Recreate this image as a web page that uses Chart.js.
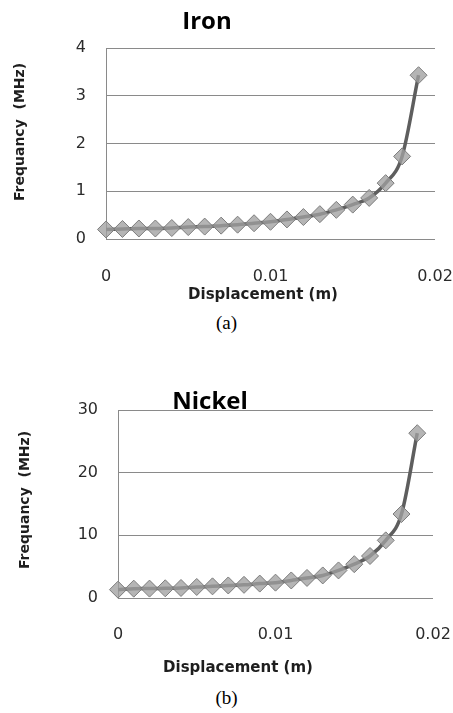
<!DOCTYPE html>
<html>
<head>
<meta charset="utf-8">
<title>Iron / Nickel frequency vs displacement</title>
<script src="https://cdn.jsdelivr.net/npm/chart.js@4.4.1/dist/chart.umd.min.js"></script>
<style>
    body {
        margin: 0;
        background: #fff;
        width: 453px;
        height: 713px;
        position: relative;
        overflow: hidden;
    }
    .panel {
        position: absolute;
        left: 0;
        width: 453px;
    }
    .caption {
        position: absolute;
        left: 0;
        width: 453px;
        text-align: center;
        font-family: "Liberation Serif", "Times New Roman", serif;
        font-size: 19px;
        line-height: 22px;
        color: #000;
    }
</style>
</head>
<body>
<div class="panel" style="top:0;height:310px"><canvas id="ironChart" width="453" height="310"></canvas></div>
<div class="caption" style="top:312px">(a)</div>
<div class="panel" style="top:370px;height:315px"><canvas id="nickelChart" width="453" height="315"></canvas></div>
<div class="caption" style="top:687px">(b)</div>

<script>
// Data
const displacement = [0, 0.001, 0.002, 0.003, 0.004, 0.005, 0.006, 0.007, 0.008, 0.009,
                      0.010, 0.011, 0.012, 0.013, 0.014, 0.015, 0.016, 0.017, 0.018, 0.019];
const ironFreq = [0.20, 0.21, 0.22, 0.22, 0.23, 0.25, 0.26, 0.28, 0.30, 0.33,
                  0.36, 0.41, 0.46, 0.52, 0.61, 0.72, 0.86, 1.17, 1.73, 3.43];
const nickelFreq = [1.33, 1.49, 1.50, 1.55, 1.60, 1.76, 1.86, 2.00, 2.10, 2.30,
                    2.45, 2.80, 3.20, 3.60, 4.40, 5.40, 6.70, 9.20, 13.4, 26.3];
const xTicks = [0, 0.01, 0.02];
const ironYTicks = [0, 1, 2, 3, 4];
const nickelYTicks = [0, 10, 20, 30];

const TITLE_FONT = '"Open Sans", "Noto Sans", sans-serif';
const AXIS_FONT = '"DejaVu Sans", Verdana, sans-serif';
const GRID = '#8a8a8a';

// Draws free-standing text (panel title, axis titles) at given spots
const freeText = {
    id: 'freeText',
    afterDraw(chart, args, opts) {
        const ctx = chart.ctx;
        (opts.items || []).forEach(item => {
            ctx.save();
            ctx.translate(item.x, item.y);
            if (item.rotate) ctx.rotate(item.rotate);
            ctx.font = item.font;
            ctx.fillStyle = item.color || '#000';
            ctx.textAlign = 'center';
            ctx.textBaseline = 'middle';
            ctx.fillText(item.text, 0, 0);
            ctx.restore();
        });
    }
};

function makeChart(id, values, yTicks, cfg) {
    const points = displacement.map((x, i) => ({ x: x, y: values[i] }));

    return new Chart(document.getElementById(id), {
        type: 'line',
        data: {
            datasets: [{
                data: points,
                borderColor: '#5e5e5e',
                borderWidth: 3.5,
                cubicInterpolationMode: 'monotone',
                pointStyle: 'rectRot',
                pointRadius: 8.5,
                pointBackgroundColor: 'rgba(160, 160, 160, 0.78)',
                pointBorderColor: '#7c7c7c',
                pointBorderWidth: 1,
                clip: false
            }]
        },
        options: {
            responsive: false,
            animation: false,
            layout: {
                padding: { top: cfg.top, right: 0, left: 0, bottom: 0 }
            },
            plugins: {
                legend: { display: false },
                tooltip: { enabled: false },
                freeText: { items: cfg.texts }
            },
            scales: {
                x: {
                    type: 'linear',
                    min: 0,
                    max: 0.02,
                    afterBuildTicks: scale => { scale.ticks = xTicks.map(v => ({ value: v })); },
                    afterFit: scale => {
                        scale.height = cfg.xHeight;
                        // tick padding would otherwise be added to the side padding too
                        scale.paddingLeft = 0;
                        scale.paddingRight = cfg.right;
                    },
                    grid: { display: false, drawTicks: false },
                    border: { display: false },
                    ticks: {
                        padding: cfg.xTickPad,
                        maxRotation: 0,
                        color: '#2b2b2b',
                        font: { family: AXIS_FONT, size: 16 },
                        callback: v => String(v)
                    }
                },
                y: {
                    min: yTicks[0],
                    max: yTicks[yTicks.length - 1],
                    afterBuildTicks: scale => { scale.ticks = yTicks.map(v => ({ value: v })); },
                    afterFit: scale => { scale.width = cfg.yWidth; },
                    grid: { color: GRID, lineWidth: 1, drawTicks: false },
                    border: { display: true, color: GRID, width: 1 },
                    ticks: {
                        padding: cfg.yTickPad,
                        color: '#2b2b2b',
                        font: { family: AXIS_FONT, size: 16 }
                    }
                }
            }
        },
        plugins: [freeText]
    });
}

function axisTitles(xPos, yPos) {
    return [
        { text: 'Displacement (m)', x: xPos[0], y: xPos[1], font: 'bold 15px ' + AXIS_FONT, color: '#1e1e1e' },
        { text: 'Frequancy  (MHz)', x: yPos[0], y: yPos[1], font: 'bold 14px ' + AXIS_FONT, color: '#1e1e1e', rotate: -Math.PI / 2 }
    ];
}

document.addEventListener('DOMContentLoaded', function() {
    // (a) Iron
    makeChart('ironChart', ironFreq, ironYTicks, {
        top: 48, right: 18, yWidth: 106, xHeight: 71,
        xTickPad: 28, yTickPad: 20,
        texts: [{ text: 'Iron', x: 207, y: 22, font: 'bold 24px ' + TITLE_FONT }]
            .concat(axisTitles([263, 295], [20, 132]))
    });

    // (b) Nickel
    makeChart('nickelChart', nickelFreq, nickelYTicks, {
        top: 40, right: 20, yWidth: 118, xHeight: 87,
        xTickPad: 27, yTickPad: 20,
        texts: [{ text: 'Nickel', x: 210, y: 32, font: 'bold 24px ' + TITLE_FONT }]
            .concat(axisTitles([238, 298], [25, 130]))
    });
});
</script>
</body>
</html>
